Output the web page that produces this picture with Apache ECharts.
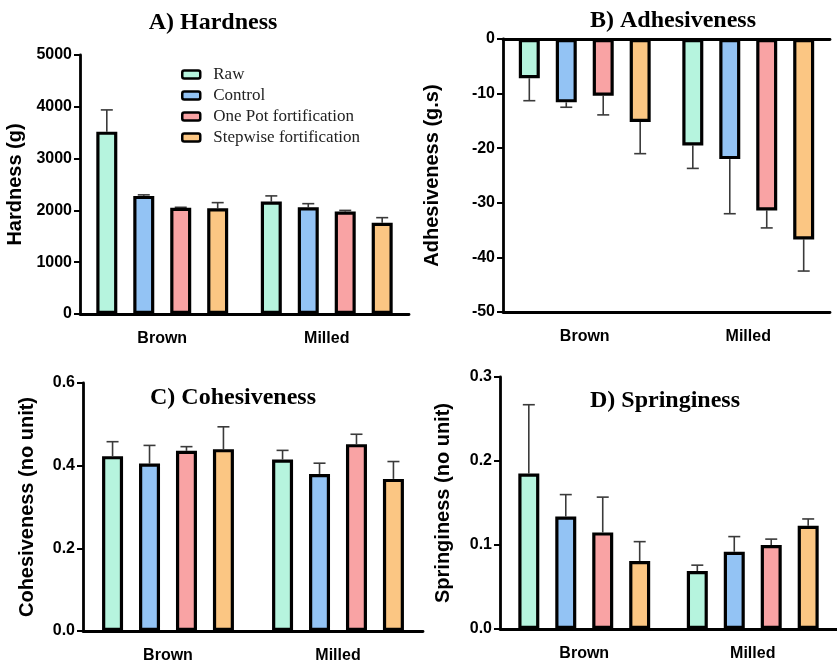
<!DOCTYPE html>
<html>
<head>
<meta charset="utf-8">
<script src="https://cdn.jsdelivr.net/npm/echarts@6/dist/echarts.min.js"></script>
<style>html,body{margin:0;padding:0;background:#fff;}#c{width:837px;height:664px;}</style>
</head>
<body>
<div id="c"></div>
<script>
// ---- data ----
var categories = ['Brown', 'Milled'];
var seriesNames = ['Raw', 'Control', 'One Pot fortification', 'Stepwise fortification'];
var colors = ['#b6f4de', '#93c3f4', '#f9a3a4', '#fbc683'];

// A) Hardness (g): means and SD per series [Brown, Milled]
var hardnessRaw = [3520, 2170];
var hardnessControl = [2280, 2060];
var hardnessOnePot = [2050, 1980];
var hardnessStepwise = [2040, 1760];
var hardnessRawSD = [420, 110];
var hardnessControlSD = [20, 70];
var hardnessOnePotSD = [10, 20];
var hardnessStepwiseSD = [110, 100];

// B) Adhesiveness (g.s)
var adhesRaw = [-7.2, -19.5];
var adhesControl = [-11.6, -22.0];
var adhesOnePot = [-10.4, -31.4];
var adhesStepwise = [-15.2, -36.7];
var adhesRawSD = [4.1, 4.2];
var adhesControlSD = [0.9, 10.0];
var adhesOnePotSD = [3.5, 3.2];
var adhesStepwiseSD = [5.8, 5.8];

// C) Cohesiveness (no unit)
var cohesRaw = [0.423, 0.415];
var cohesControl = [0.405, 0.380];
var cohesOnePot = [0.436, 0.452];
var cohesStepwise = [0.440, 0.368];
var cohesRawSD = [0.035, 0.022];
var cohesControlSD = [0.044, 0.026];
var cohesOnePotSD = [0.010, 0.024];
var cohesStepwiseSD = [0.054, 0.042];

// D) Springiness (no unit)
var springRaw = [0.185, 0.069];
var springControl = [0.134, 0.092];
var springOnePot = [0.115, 0.100];
var springStepwise = [0.081, 0.123];
var springRawSD = [0.082, 0.007];
var springControlSD = [0.026, 0.018];
var springOnePotSD = [0.042, 0.007];
var springStepwiseSD = [0.023, 0.008];

var panels = [
  {title: 'A) Hardness', yName: 'Hardness (g)', min: 0, max: 5000, interval: 1000, dec: 0,
   means: [hardnessRaw, hardnessControl, hardnessOnePot, hardnessStepwise],
   sds: [hardnessRawSD, hardnessControlSD, hardnessOnePotSD, hardnessStepwiseSD]},
  {title: 'B) Adhesiveness', yName: 'Adhesiveness (g.s)', min: -50, max: 0, interval: 10, dec: 0,
   means: [adhesRaw, adhesControl, adhesOnePot, adhesStepwise],
   sds: [adhesRawSD, adhesControlSD, adhesOnePotSD, adhesStepwiseSD]},
  {title: 'C) Cohesiveness', yName: 'Cohesiveness (no unit)', min: 0, max: 0.6, interval: 0.2, dec: 1,
   means: [cohesRaw, cohesControl, cohesOnePot, cohesStepwise],
   sds: [cohesRawSD, cohesControlSD, cohesOnePotSD, cohesStepwiseSD]},
  {title: 'D) Springiness', yName: 'Springiness (no unit)', min: 0, max: 0.3, interval: 0.1, dec: 1,
   means: [springRaw, springControl, springOnePot, springStepwise],
   sds: [springRawSD, springControlSD, springOnePotSD, springStepwiseSD]}
];

// ---- layout (styles / positions only) ----
var grids = [
  {left: 80, top: 55, width: 329, height: 259},
  {left: 503, top: 39, width: 327, height: 273},
  {left: 83, top: 383, width: 340, height: 250},
  {left: 500, top: 377, width: 341, height: 252}
];
var nameGaps = [55, 61, 46, 47];
var titlePos = [[213, 11], [673, 9], [233, 386], [665, 389]];
var BAR_W = 21, BAR_GAP = '76%';

var sansFont = '"Liberation Sans", Arial, sans-serif';
var serifFont = '"Liberation Serif", "Times New Roman", serif';

var xAxes = [], yAxes = [], series = [], graphics = [];

panels.forEach(function (p, gi) {
  xAxes.push({
    type: 'category', gridIndex: gi, data: categories, position: 'bottom',
    axisLine: {onZero: false, lineStyle: {color: '#000', width: 2.8}},
    axisTick: {alignWithLabel: true, length: 6, lineStyle: {color: '#000', width: 2}},
    axisLabel: {color: '#000', fontFamily: sansFont, fontWeight: 'bold', fontSize: 16, margin: 17},
    splitLine: {show: false}
  });
  yAxes.push({
    type: 'value', gridIndex: gi, min: p.min, max: p.max, interval: p.interval,
    name: p.yName, nameLocation: 'middle', nameGap: nameGaps[gi],
    nameTextStyle: {color: '#000', fontFamily: sansFont, fontWeight: 'bold', fontSize: 20},
    axisLine: {show: true, lineStyle: {color: '#000', width: 2.8}},
    axisTick: {show: true, length: 6, lineStyle: {color: '#000', width: 2}},
    axisLabel: {color: '#000', fontFamily: sansFont, fontWeight: 'bold', fontSize: 16, margin: 8,
      formatter: (function (d) { return function (v) { return v.toFixed(d); }; })(p.dec)},
    splitLine: {show: false}
  });
  graphics.push({
    type: 'text', x: titlePos[gi][0], y: titlePos[gi][1],
    style: {text: p.title, font: 'bold 24px ' + serifFont, fill: '#000', align: 'center', verticalAlign: 'top'}
  });

  seriesNames.forEach(function (sn, si) {
    series.push({
      type: 'bar', name: sn, xAxisIndex: gi, yAxisIndex: gi,
      data: p.means[si], barWidth: BAR_W, barGap: BAR_GAP, z: 3,
      itemStyle: {color: colors[si], borderColor: '#000', borderWidth: 3.2},
      emphasis: {disabled: true}
    });
    var errData = categories.map(function (c, ci) {
      var m = p.means[si][ci];
      var sd = p.sds[si][ci];
      return [ci, m, m < 0 ? m - sd : m + sd];
    });
    series.push({
      type: 'custom', name: sn + ' SD', xAxisIndex: gi, yAxisIndex: gi, z: 2,
      data: errData,
      renderItem: (function (idx) {
        return function (params, api) {
          var layout = api.barLayout({barWidth: BAR_W, barGap: BAR_GAP, count: 4});
          var base = api.coord([api.value(0), api.value(1)]);
          var end = api.coord([api.value(0), api.value(2)]);
          var x = base[0] + layout[idx].offsetCenter;
          var cap = 6;
          return {
            type: 'group',
            children: [
              {type: 'line', shape: {x1: x, y1: base[1], x2: x, y2: end[1]}, style: {stroke: '#3a3a3a', lineWidth: 1.6}},
              {type: 'line', shape: {x1: x - cap, y1: end[1], x2: x + cap, y2: end[1]}, style: {stroke: '#3a3a3a', lineWidth: 1.6}}
            ]
          };
        };
      })(si),
      silent: true
    });
  });
});

// top line at zero for panel B
xAxes.push({
  type: 'category', gridIndex: 1, data: categories, position: 'top',
  axisLine: {onZero: false, lineStyle: {color: '#000', width: 2.8}},
  axisTick: {show: false}, axisLabel: {show: false}, splitLine: {show: false}
});

var chart = echarts.init(document.getElementById('c'), null, {renderer: 'canvas'});
chart.setOption({
  backgroundColor: '#fff',
  animation: false,
  grid: grids,
  xAxis: xAxes,
  yAxis: yAxes,
  legend: {
    data: seriesNames, orient: 'vertical', left: 176, top: 61,
    itemWidth: 18, itemHeight: 8, itemGap: 4, icon: 'roundRect',
    itemStyle: {borderColor: '#000', borderWidth: 2.5},
    textStyle: {color: '#222', fontFamily: serifFont, fontSize: 17, padding: [0, 0, 0, 8]},
    selectedMode: false
  },
  graphic: graphics,
  series: series
});
</script>
</body>
</html>
